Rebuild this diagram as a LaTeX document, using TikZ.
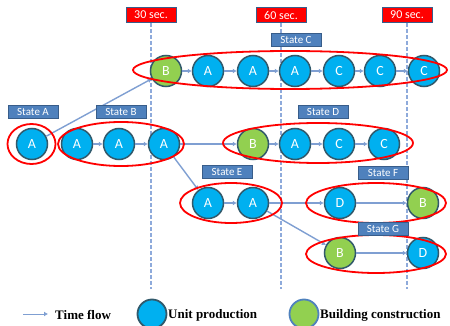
\documentclass[tikz,border=0pt]{standalone}
\usepackage{fontspec}
\setmainfont{Liberation Serif}
\newfontfamily\calfont{Carlito}
\usetikzlibrary{arrows.meta}
\definecolor{unitc}{HTML}{00B0F0}
\definecolor{bldc}{HTML}{92D050}
\definecolor{nborder}{HTML}{31596B}
\definecolor{boxc}{HTML}{4F81BD}
\definecolor{boxborder}{HTML}{385D8A}
\definecolor{flowc}{HTML}{7F9FD2}
\definecolor{tlc}{HTML}{8EAADB}
\begin{document}
\begin{tikzpicture}[x=1pt,y=-1pt,
  unit/.style={circle, draw=nborder, line width=1.5pt, fill=unitc, minimum size=31pt, inner sep=0pt, text=white, font=\calfont\fontsize{14}{14}\selectfont},
  bld/.style={unit, fill=bldc},
  statebox/.style={draw=boxborder, line width=0.8pt, fill=boxc, minimum width=50pt, minimum height=13pt, inner sep=0pt, text=white, font=\calfont\fontsize{11}{11}\selectfont},
  timebox/.style={statebox, fill=red, draw=boxborder, minimum height=15pt, font=\calfont\fontsize{12}{12}\selectfont},
  flow/.style={draw=flowc, line width=1.4pt, -{Latex[length=4pt,width=5pt]}},
  tline/.style={draw=tlc, line width=1.4pt, dash pattern=on 4pt off 2pt},
  grp/.style={draw=red, line width=1.8pt},
  legtext/.style={anchor=west, inner sep=0pt, font=\bfseries\fontsize{13}{13}\selectfont}
]
\useasboundingbox (0,0) rectangle (450,326);

% time markers
\node[timebox] (t30) at (151,15) {30 sec.};
\node[timebox] (t60) at (281,15) {60 sec.};
\node[timebox] (t90) at (407,15) {90 sec.};
\coordinate (e30) at (151,289);
\coordinate (e60) at (281,289);
\coordinate (e90) at (407,289);
\draw[tline] (t30.south) -- (e30);
\draw[tline] (t60.south) -- (e60);
\draw[tline] (t90.south) -- (e90);

% nodes: State C
\node[bld]  (c1) at (166,71) {B};
\node[unit] (c2) at (208,71) {A};
\node[unit] (c3) at (253,71) {A};
\node[unit] (c4) at (295,71) {A};
\node[unit] (c5) at (339,71) {C};
\node[unit] (c6) at (380,71) {C};
\node[unit] (c7) at (424,71) {C};
% State A, B
\node[unit] (a1) at (32,144) {A};
\node[unit] (b1) at (77,144) {A};
\node[unit] (b2) at (119,144) {A};
\node[unit] (b3) at (164,144) {A};
% State D
\node[bld]  (d1) at (253,144) {B};
\node[unit] (d2) at (295,144) {A};
\node[unit] (d3) at (339,144) {C};
\node[unit] (d4) at (384,144) {C};
% State E
\node[unit] (e1) at (208,203) {A};
\node[unit] (e2) at (253,203) {A};
% State F
\node[unit] (f1) at (340,203) {D};
\node[bld]  (f2) at (423,203) {B};
% State G
\node[bld]  (g1) at (340,253) {B};
\node[unit] (g2) at (423,253) {D};

% flows
\draw[flow] (c1) -- (c2);
\draw[flow] (c2) -- (c3);
\draw[flow] (c3) -- (c4);
\draw[flow] (c4) -- (c5);
\draw[flow] (c5) -- (c6);
\draw[flow] (c6) -- (c7);
\draw[flow] (a1) -- (c1);
\draw[flow] (b1) -- (b2);
\draw[flow] (b2) -- (b3);
\draw[flow] (b3) -- (d1);
\draw[flow] (d1) -- (d2);
\draw[flow] (d2) -- (d3);
\draw[flow] (d3) -- (d4);
\draw[flow] (b3) -- (e1);
\draw[flow] (e1) -- (e2);
\draw[flow] (e2) -- (f1);
\draw[flow] (f1) -- (f2);
\draw[flow] (e2) -- (g1);
\draw[flow] (g1) -- (g2);

% group ellipses
\draw[grp] (290,70) ellipse [x radius=157, y radius=19];
\draw[grp] (31.5,144) ellipse [x radius=24, y radius=20];
\draw[grp] (121,144) ellipse [x radius=63, y radius=22];
\draw[grp] (318,143) ellipse [x radius=95, y radius=20];
\draw[grp] (231,203) ellipse [x radius=51, y radius=20];
\draw[grp] (376,203) ellipse [x radius=70, y radius=20];
\draw[grp] (376,254) ellipse [x radius=70, y radius=19];

% state labels
\node[statebox] (sA) at (33,112) {State A};
\node[statebox] (sB) at (121,112) {State B};
\node[statebox] (sC) at (296,39.5) {State C};
\node[statebox] (sD) at (323,112) {State D};
\node[statebox] (sE) at (227,172) {State E};
\node[statebox] (sF) at (383,173) {State F};
\node[statebox] (sG) at (383,229) {State G};

% legend
\coordinate (l1) at (23,314);
\coordinate (l2) at (48,314);
\draw[flow, line width=1pt] (l1) -- (l2);
\node[legtext] (lt1) at (55,315) {Time flow};
\node[unit, line width=1.8pt, minimum size=29pt] (lc1) at (152,314) {};
\node[legtext] (lt2) at (168,315) {Unit production};
\node[bld, draw=boxc, line width=1.8pt, minimum size=29pt] (lc2) at (304,314) {};
\node[legtext] (lt3) at (320,315) {Building construction};
\end{tikzpicture}
\end{document}
